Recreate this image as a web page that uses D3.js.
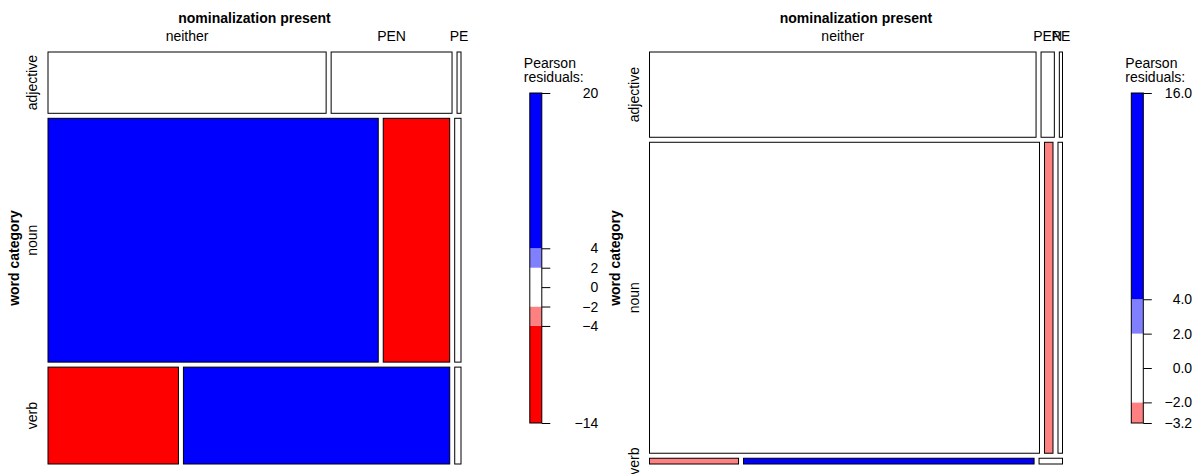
<!DOCTYPE html>
<html>
<head>
<meta charset="utf-8">
<script src="https://cdn.jsdelivr.net/npm/d3@7"></script>
<style>
  body { margin: 0; background: #fff; }
  text { font-family: "Liberation Sans", Arial, Helvetica, sans-serif; font-size: 14px; fill: #000; }
</style>
</head>
<body>
<div id="chart"></div>
<script>
// levels of the two variables
const rowLevels = ["adjective", "noun", "verb"];
const colLevels = ["neither", "PEN", "PE"];
const rowVarName = "word category";
const colVarName = "nominalization present";
const legendTitle = ["Pearson", "residuals:"];

// left panel: cell counts (rows x cols) and pearson residuals
const countsLeft = [
  [421, 183, 6],
  [1988, 400, 38],
  [312, 637, 15]
];
const residLeft = [
  [0.4, -0.2, -1.0],
  [8.5, -9.5, 0.8],
  [-14, 20, -0.6]
];
const legendTicksLeft = [-14, -4, -2, 0, 2, 4, 20];
const legendLabelsLeft = ["\u221214", "\u22124", "\u22122", "0", "2", "4", "20"];

// right panel
const countsRight = [
  [1222, 42, 10],
  [4496, 98, 52],
  [19, 62, 5]
];
const residRight = [
  [-0.3, 1.4, 0.2],
  [0.8, -2.6, 1.0],
  [-3.2, 16.0, 0.5]
];
const legendTicksRight = [-3.2, -2, 0, 2, 4, 16];
const legendLabelsRight = ["\u22123.2", "\u22122.0", "0.0", "2.0", "4.0", "16.0"];

const width = 1199, height = 474;

const svg = d3.select("#chart").append("svg")
  .attr("width", width)
  .attr("height", height);

svg.append("rect").attr("width", width).attr("height", height).attr("fill", "#fff");

// residual based shading, cut points at 2 and 4
function shade(r) {
  if (r > 4) return "#0000ff";
  if (r > 2) return "#8080ff";
  if (r < -4) return "#ff0000";
  if (r < -2) return "#ff8080";
  return "#ffffff";
}

const plot = { top: 52, height: 412, width: 413, gap: 5 };

function renderPanel(ox, counts, resid, ticks, tickLabels, labelOffset) {
  const g = svg.append("g");

  const rowTotals = counts.map(r => d3.sum(r));
  const total = d3.sum(rowTotals);

  // vertical split by row variable
  const y = d3.scaleLinear()
    .domain([0, total])
    .range([0, plot.height - plot.gap * (rowLevels.length - 1)]);

  const rowStart = [];
  let acc = 0;
  rowTotals.forEach(function (t, i) {
    rowStart.push(plot.top + y(acc) + i * plot.gap);
    acc += t;
  });

  const cells = [];
  counts.forEach(function (row, i) {
    // horizontal split within each row
    const x = d3.scaleLinear()
      .domain([0, rowTotals[i]])
      .range([0, plot.width - plot.gap * (colLevels.length - 1)]);
    let c = 0;
    row.forEach(function (v, j) {
      cells.push({
        row: i, col: j,
        x: ox + x(c) + j * plot.gap,
        w: x(v),
        y: rowStart[i],
        h: y(rowTotals[i]),
        r: resid[i][j]
      });
      c += v;
    });
  });

  g.selectAll("rect.cell")
    .data(cells)
    .enter().append("rect")
      .attr("class", "cell")
      .attr("x", d => d.x)
      .attr("y", d => d.y)
      .attr("width", d => d.w)
      .attr("height", d => d.h)
      .attr("fill", d => shade(d.r))
      .attr("stroke", "#000")
      .attr("stroke-width", 1);

  // column variable name and level labels (positioned by top row)
  g.append("text")
    .attr("x", ox + plot.width / 2)
    .attr("y", 22.5)
    .attr("text-anchor", "middle")
    .attr("font-weight", "bold")
    .text(colVarName);

  g.selectAll("text.collab")
    .data(cells.filter(d => d.row === 0))
    .enter().append("text")
      .attr("class", "collab")
      .attr("x", d => d.x + d.w / 2)
      .attr("y", 41)
      .attr("text-anchor", "middle")
      .text(d => colLevels[d.col]);

  // row variable name and level labels
  g.append("text")
    .attr("transform", "translate(" + (ox - 29.5) + "," + (plot.top + plot.height / 2) + ") rotate(-90)")
    .attr("text-anchor", "middle")
    .attr("font-weight", "bold")
    .text(rowVarName);

  g.selectAll("text.rowlab")
    .data(cells.filter(d => d.col === 0))
    .enter().append("text")
      .attr("class", "rowlab")
      .attr("transform", d => "translate(" + (ox - 11) + "," + (d.y + d.h / 2) + ") rotate(-90)")
      .attr("text-anchor", "middle")
      .text(d => rowLevels[d.row]);

  // legend
  const legX = ox + 481.8;
  const legW = 12;
  const ly = d3.scaleLinear()
    .domain([ticks[0], ticks[ticks.length - 1]])
    .range([423, 93]);

  const lg = g.append("g");

  lg.selectAll("text.legtitle")
    .data(legendTitle)
    .enter().append("text")
      .attr("class", "legtitle")
      .attr("x", legX - 6)
      .attr("y", (d, i) => 68.3 + i * 13.3)
      .text(d => d);

  const bins = d3.pairs(ticks);
  lg.selectAll("rect.bin")
    .data(bins)
    .enter().append("rect")
      .attr("class", "bin")
      .attr("x", legX)
      .attr("width", legW)
      .attr("y", d => ly(d[1]))
      .attr("height", d => ly(d[0]) - ly(d[1]))
      .attr("fill", d => shade((d[0] + d[1]) / 2));

  lg.append("rect")
    .attr("x", legX)
    .attr("y", ly.range()[1])
    .attr("width", legW)
    .attr("height", ly.range()[0] - ly.range()[1])
    .attr("fill", "none")
    .attr("stroke", "#000");

  const axis = lg.append("g")
    .attr("transform", "translate(" + (legX + legW) + ",0)")
    .call(d3.axisRight(ly)
      .tickValues(ticks)
      .tickFormat((d, i) => tickLabels[i])
      .tickSize(8.5)
      .tickSizeOuter(0));
  axis.select(".domain").remove();
  axis.selectAll(".tick line").attr("stroke", "#000");
  axis.selectAll(".tick text")
    .attr("x", labelOffset)
    .attr("text-anchor", "end")
    .attr("fill", "#000")
    .style("font-size", "14px")
    .style("font-family", "'Liberation Sans', Arial, sans-serif");
  axis.attr("font-size", null).attr("font-family", null);
}

renderPanel(48, countsLeft, residLeft, legendTicksLeft, legendLabelsLeft, 56.5);
renderPanel(649.5, countsRight, residRight, legendTicksRight, legendLabelsRight, 48.8);
</script>
</body>
</html>
